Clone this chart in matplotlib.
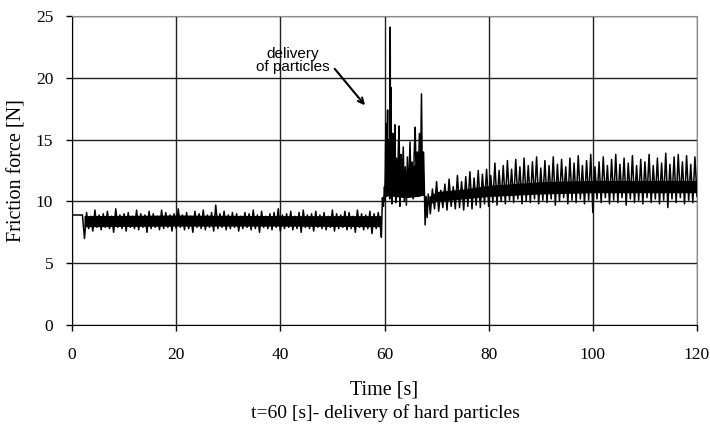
import numpy as np
import matplotlib
matplotlib.use('Agg')
import matplotlib.pyplot as plt

# flat part before the test starts
start_time = [0.0, 1.9]
start_force = [8.9, 8.9]

# 2 s .. 59.2 s, steady sliding (high/low pairs)
quiet_force = [
    8.9, 7.0, 9.1, 7.8, 8.8, 7.6, 9.3, 7.9, 8.9, 7.7, 9.0, 7.9, 9.2, 7.8, 8.8, 7.5, 9.4, 7.9, 8.9, 7.8,
    9.0, 7.6, 9.1, 7.9, 8.8, 7.8, 9.3, 7.7, 9.0, 7.9, 8.9, 7.5, 9.2, 7.8, 9.0, 7.9, 8.8, 7.7, 9.3, 7.8,
    9.1, 7.9, 8.9, 7.6, 9.0, 7.8, 9.4, 7.9, 8.9, 7.7, 9.1, 7.8, 8.8, 7.5, 9.2, 7.9, 9.0, 7.8, 9.3, 7.7,
    8.9, 7.9, 9.1, 7.6, 9.7, 7.8, 9.0, 7.9, 9.2, 7.7, 8.9, 7.8, 9.1, 7.9, 9.0, 7.6, 8.8, 7.8, 9.1, 7.9,
    9.0, 7.7, 9.3, 7.8, 8.9, 7.5, 9.2, 7.9, 8.8, 7.8, 9.0, 7.7, 9.1, 7.9, 9.4, 7.6, 8.9, 7.8, 9.0, 7.9,
    9.2, 7.7, 8.8, 7.8, 9.1, 7.5, 9.3, 7.9, 8.9, 7.8, 9.0, 7.6, 9.2, 7.9, 8.9, 7.8, 9.1, 7.7, 8.8, 7.9,
    9.3, 7.6, 9.0, 7.8, 8.9, 7.9, 9.2, 7.7, 9.1, 7.8, 8.8, 7.5, 9.3, 7.9, 9.0, 7.7, 8.9, 7.8, 9.2, 7.4,
    9.0, 7.8, 9.1, 8.0,
]

# 59.4 s .. 68.2 s, hard particles delivered
burst_time = [
    59.4, 59.6, 59.8, 60.0, 60.1, 60.2, 60.3, 60.4, 60.5, 60.6, 60.7, 60.8, 60.9, 61.0, 61.1, 61.15,
    61.25, 61.4, 61.5, 61.6, 61.75, 61.85, 62.0, 62.15, 62.3, 62.5, 62.65, 62.8, 62.95, 63.1, 63.2,
    63.4, 63.6, 63.8, 64.0, 64.2, 64.4, 64.6, 64.9, 65.1, 65.3, 65.5, 65.7, 65.9, 66.1, 66.3, 66.5,
    66.7, 66.9, 67.1, 67.3, 67.5, 67.8, 68.0, 68.2,
]
burst_force = [
    7.1, 10.3, 9.6, 11.2, 10.0, 14.5, 16.3, 10.5, 15.2, 17.4, 11.0, 14.6, 15.0, 10.2, 24.1, 11.5,
    19.2, 9.8, 14.8, 15.5, 10.6, 13.2, 16.2, 9.9, 13.5, 10.8, 14.2, 16.1, 9.6, 12.9, 13.8,
    11.2, 14.4, 10.0, 12.8, 9.7, 13.6, 10.4, 14.8, 11.0, 13.2, 10.2, 13.9, 16.0, 11.3, 14.0, 11.8,
    15.5, 12.0, 18.7, 10.5, 14.0, 8.1, 10.4, 8.7,
]

# 68.4 s .. 120 s, after delivery (high/low pairs)
after_force = [
    10.6, 9.0, 11.0, 9.4, 11.6, 9.2, 10.9, 9.5, 11.4, 9.3, 11.8, 9.6, 11.2, 9.4, 12.1, 9.5,
    11.6, 9.3, 12.0, 9.6, 12.4, 9.4, 11.9, 9.7, 12.5, 9.5, 12.2, 9.8, 12.6, 9.6, 12.1, 9.9,
    13.1, 9.7, 12.5, 10.0, 12.9, 9.8, 13.3, 10.1, 12.6, 9.9, 13.4, 10.2, 12.8, 9.8, 13.5, 10.0,
    12.9, 9.9, 13.2, 10.2, 13.6, 9.8, 12.7, 10.1, 13.3, 9.9, 12.9, 10.2, 13.6, 9.7, 13.0, 10.0,
    13.4, 10.3, 12.8, 9.8, 13.5, 10.1, 13.1, 9.9, 13.7, 10.2, 12.9, 9.8, 13.3, 10.1, 13.8, 9.1,
    12.8, 10.2, 13.2, 9.9, 13.6, 10.3, 12.9, 9.8, 13.4, 10.1, 13.8, 9.9, 13.0, 10.3, 13.5, 9.7,
    13.1, 10.2, 13.7, 9.9, 12.9, 10.1, 13.4, 9.8, 13.2, 10.3, 13.8, 9.9, 12.9, 10.2, 13.5, 9.8,
    13.1, 10.1, 13.9, 9.5, 13.0, 10.2, 13.6, 9.9, 13.8, 10.3, 13.2, 9.8, 13.7, 10.1, 13.0, 9.9,
    13.6, 10.4,
]

# dense core of the noisy band (where the trace is solid black)
quiet_core_time = [2.3, 20.0, 40.0, 59.3]
quiet_core_lo = [7.95, 8.0, 8.0, 7.95]
quiet_core_hi = [8.85, 8.9, 8.85, 8.85]

burst_core_time = [59.9, 60.2, 61.4, 61.7, 64.0, 66.5, 67.4, 67.6]
burst_core_lo = [10.4, 10.4, 10.5, 10.4, 10.3, 10.4, 10.5, 10.4]
burst_core_hi = [11.0, 15.0, 15.2, 12.6, 12.4, 13.2, 13.6, 11.0]

after_core_time = [68.5, 70.0, 75.0, 80.0, 90.0, 100.0, 110.0, 120.0]
after_core_lo = [9.8, 10.0, 10.2, 10.4, 10.6, 10.7, 10.7, 10.7]
after_core_hi = [10.4, 10.8, 11.0, 11.3, 11.6, 11.7, 11.7, 11.7]

quiet_time = np.linspace(2.0, 59.2, len(quiet_force))
after_time = np.linspace(68.4, 120.0, len(after_force))

time = np.concatenate([start_time, quiet_time, burst_time, after_time])
force = np.concatenate([start_force, quiet_force, burst_force, after_force])

serif = ['Liberation Serif', 'DejaVu Serif']

fig = plt.figure(figsize=(7.1, 4.28), dpi=100)
ax = fig.add_axes([72 / 710, 1 - 325 / 428, 625 / 710, 309 / 428])

for ct, lo, hi in [(quiet_core_time, quiet_core_lo, quiet_core_hi),
                   (burst_core_time, burst_core_lo, burst_core_hi),
                   (after_core_time, after_core_lo, after_core_hi)]:
    ax.fill_between(ct, lo, hi, color='black', lw=0, zorder=2)
ax.plot(time, force, color='black', lw=1.1, zorder=3)

ax.set_xlim(0, 120)
ax.set_ylim(0, 25)
ax.set_xticks(range(0, 121, 20))
ax.set_yticks(range(0, 26, 5))
ax.set_axisbelow(True)
ax.grid(True, color='#202020', lw=1.0)
ax.tick_params(direction='out', length=4.5, width=1, color='black', labelsize=12.5)
ax.tick_params(axis='x', pad=11)
ax.tick_params(axis='y', pad=9)
for lab in ax.get_xticklabels() + ax.get_yticklabels():
    lab.set_family(serif)

for s in ['left', 'bottom']:
    ax.spines[s].set_color('black')
for s in ['top', 'right']:
    ax.spines[s].set_color('#8a8a8a')

ax.set_ylabel('Friction force [N]', family=serif, fontsize=14.5, labelpad=7)
ax.set_xlabel('Time [s]', family=serif, fontsize=14.5, labelpad=13)
fig.text(0.543, 0.035, 't=60 [s]- delivery of hard particles', family=serif,
         fontsize=14, ha='center', va='center')

ax.text(42.4, 21.4, 'delivery\nof particles', ha='center', va='center', fontsize=11,
        family=['Liberation Sans Narrow', 'Liberation Sans'], linespacing=0.95)
ax.annotate('', xy=(56.6, 17.6), xytext=(50.1, 20.9),
            arrowprops=dict(arrowstyle='->', color='black', lw=1.5))

fig.savefig('out.png', dpi=100)
